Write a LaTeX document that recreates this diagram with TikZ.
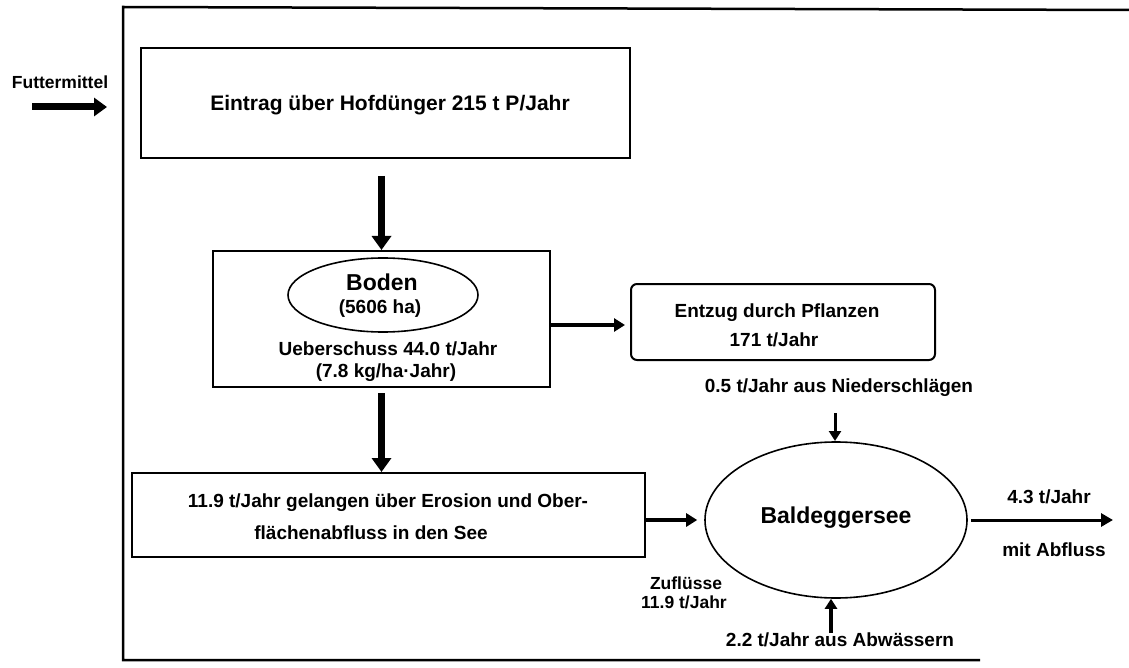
\documentclass[tikz,border=0pt]{standalone}
\usepackage{fontspec}
\setmainfont{Liberation Sans}
\usetikzlibrary{arrows.meta,calc,shapes.geometric}
\tikzset{
  lbl/.style={font=\bfseries\fontsize{19}{22}\selectfont, inner sep=0pt, anchor=center},
  lblsmall/.style={font=\bfseries\fontsize{17.5}{20}\selectfont, inner sep=0pt, anchor=center},
  lblbig/.style={font=\bfseries\fontsize{23}{26}\selectfont, inner sep=0pt, anchor=center},
  boxnode/.style={draw, line width=2pt, rectangle, inner sep=0pt},
  ovalnode/.style={draw, line width=1.6pt, ellipse, inner sep=0pt},
  heavyarrow/.style={line width=7pt, -{Triangle[width=19pt,length=14pt]}},
  lightarrow/.style={line width=3.5pt, -{Triangle[width=13pt,length=11pt]}},
  framepath/.style={line width=2.5pt, line cap=butt, line join=miter}
}
\begin{document}
\begin{tikzpicture}[x=1pt,y=-1pt]
\useasboundingbox (0,0) rectangle (1129,668);
% outer frame (open on the right)
\draw[framepath] (980,660) -- (123,660) -- (123,7) -- (1129,10);

% Futtermittel
\node[lblsmall] (futter) at (60,82) {Futtermittel};
\coordinate (fa) at (32,107);
\coordinate (fb) at (107,107);
\draw[heavyarrow, -{Triangle[width=18pt,length=13pt]}] (fa) -- (fb);

% Eintrag box
\node[boxnode, minimum width=489pt, minimum height=110pt] (box1) at (385.5,103) {};
\node[lbl, font=\bfseries\fontsize{21}{24}\selectfont] (box1t) at (390,105) {Eintrag über Hofdünger 215 t P/Jahr};

% Boden box
\node[boxnode, minimum width=337pt, minimum height=136pt] (boden) at (381.5,319) {};
\node[ovalnode, minimum width=190pt, minimum height=74pt] (bodenov) at (383,295) {};
\node[lblbig] (bodent) at (382,282) {Boden};
\node[lbl] (bodenha) at (380,309) {(5606 ha)};
\node[lbl] (ueber) at (388,349) {Ueberschuss 44.0 t/Jahr};
\node[lbl] (kgha) at (386,373) {(7.8 kg/ha·Jahr)};

% arrow Eintrag -> Boden
\draw[heavyarrow] ($(boden.north |- box1.south)+(0,17)$) -- (boden.north);

% Entzug box
\node[boxnode, rounded corners=6pt, minimum width=304pt, minimum height=76pt] (entzug) at (783,322) {};
\node[lbl] (entzugA) at (777,313) {Entzug durch Pflanzen};
\node[lbl] (entzugB) at (774,340) {171 t/Jahr};
\draw[lightarrow] ($(boden.east |- entzug.west)+(0,3)$) -- ($(entzug.west)+(-5,3)$);

% Erosion box
\node[boxnode, minimum width=513pt, minimum height=84pt] (box3) at (388.5,515) {};
\node[lbl] (box3a) at (388,503) {11.9 t/Jahr gelangen über Erosion und Ober-};
\node[lbl] (box3b) at (371,533) {flächenabfluss in den See};
\draw[heavyarrow] ($(boden.south)+(0,5)$) -- (boden.south |- box3.north);

% Baldeggersee
\node[ovalnode, minimum width=262pt, minimum height=156pt] (see) at (836,520) {};
\node[lblbig] (seet) at (836,518) {Baldeggersee};
\draw[lightarrow] (box3.east |- see.west) -- ($(see.west)+(-7,0)$);

% Niederschlaege
\node[lbl] (nieder) at (839,388) {0.5 t/Jahr aus Niederschlägen};
\draw[line width=3pt, -{Triangle[width=12pt,length=10pt]}] (835,413) -- (835,441);

% Zufluesse
\node[lblsmall] (zufl) at (686,583) {Zuflüsse};
\node[lblsmall] (zufl2) at (684,602) {11.9 t/Jahr};

% Abwaessern
\node[lbl] (abw) at (840,640) {2.2 t/Jahr aus Abwässern};
\coordinate (abwa) at (831,633);
\draw[line width=3.5pt, -{Triangle[width=12pt,length=10pt]}] (abwa) -- (abwa |- see.south);

% Abfluss
\coordinate (outend) at (1113,520);
\draw[line width=3pt, -{Triangle[width=13pt,length=12pt]}] ($(see.east)+(3,0)$) -- (outend);
\node[lbl] (out1) at (1049,497) {4.3 t/Jahr};
\node[lbl] (out2) at (1054,550) {mit Abfluss};
\end{tikzpicture}
\end{document}
